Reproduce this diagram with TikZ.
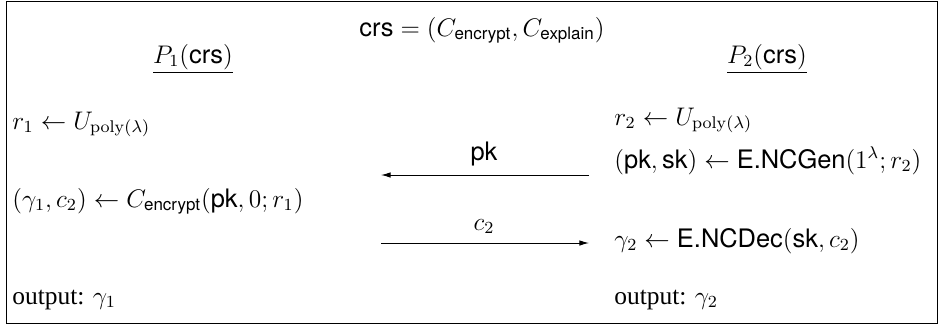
\documentclass[tikz,border=0pt]{standalone}
\usepackage{amsmath}
\usepackage[no-math]{fontspec}
\setmainfont{Liberation Serif}
\setsansfont{TeX Gyre Heros}
\usepackage{tikz}
\usetikzlibrary{arrows.meta}
\newcommand{\sfm}[1]{\text{\sffamily #1}}

\begin{document}
\begin{tikzpicture}[x=0.4717pt,y=-0.4717pt,>={Latex[length=4.5pt,width=2.6pt]},
	font=\fontsize{12}{14.4}\selectfont]
	\useasboundingbox (0,0) rectangle (938,329);
	\draw[line width=0.45pt] (6,1.5) rectangle (937,323.5); % frame
	
	\tikzset{line/.style={inner sep=0pt,text=black,anchor=base west},
		head/.style={inner sep=0pt,text=black,anchor=base}}
	
	\node[head] (crs) at (482,36) {$\sfm{crs} = (C_{\sfm{encrypt}}, C_{\sfm{explain}})$};
	\node[head] (p1) at (193,63) {$\underline{P_1(\sfm{crs})}$};
	\node[head] (p2) at (767,63) {$\underline{P_2(\sfm{crs})}$};
	
	% party 1
	\node[line] (r1) at (12,129) {$r_1 \leftarrow U_{\mathrm{poly}(\lambda)}$};
	\node[line] (enc) at (12,207) {$(\gamma_1, c_2) \leftarrow C_{\sfm{encrypt}}(\sfm{pk}, 0; r_1)$};
	\node[line] (out1) at (12,304) {output: $\gamma_1$};
	
	% party 2
	\node[line] (r2) at (614,125) {$r_2 \leftarrow U_{\mathrm{poly}(\lambda)}$};
	\node[line] (gen) at (614,168) {$(\sfm{pk}, \sfm{sk}) \leftarrow \sfm{E.NCGen}(1^\lambda; r_2)$};
	\node[line] (dec) at (614,247) {$\gamma_2 \leftarrow \sfm{E.NCDec}(\sfm{sk}, c_2)$};
	\node[line] (out2) at (614,304) {output: $\gamma_2$};
	
	% messages
	\coordinate (pkL) at (381,175);
	\coordinate (pkR) at (589,175);
	\coordinate (cL) at (381,243);
	\coordinate (cR) at (589,243);
	\node[head] (pk) at (484,160) {$\sfm{pk}$};
	\node[head] (c2) at (484,230) {$c_2$};
	\draw[->,line width=0.45pt] (pkR) -- (pkL);
	\draw[->,line width=0.45pt] (cL) -- (cR);
\end{tikzpicture}
\end{document}
